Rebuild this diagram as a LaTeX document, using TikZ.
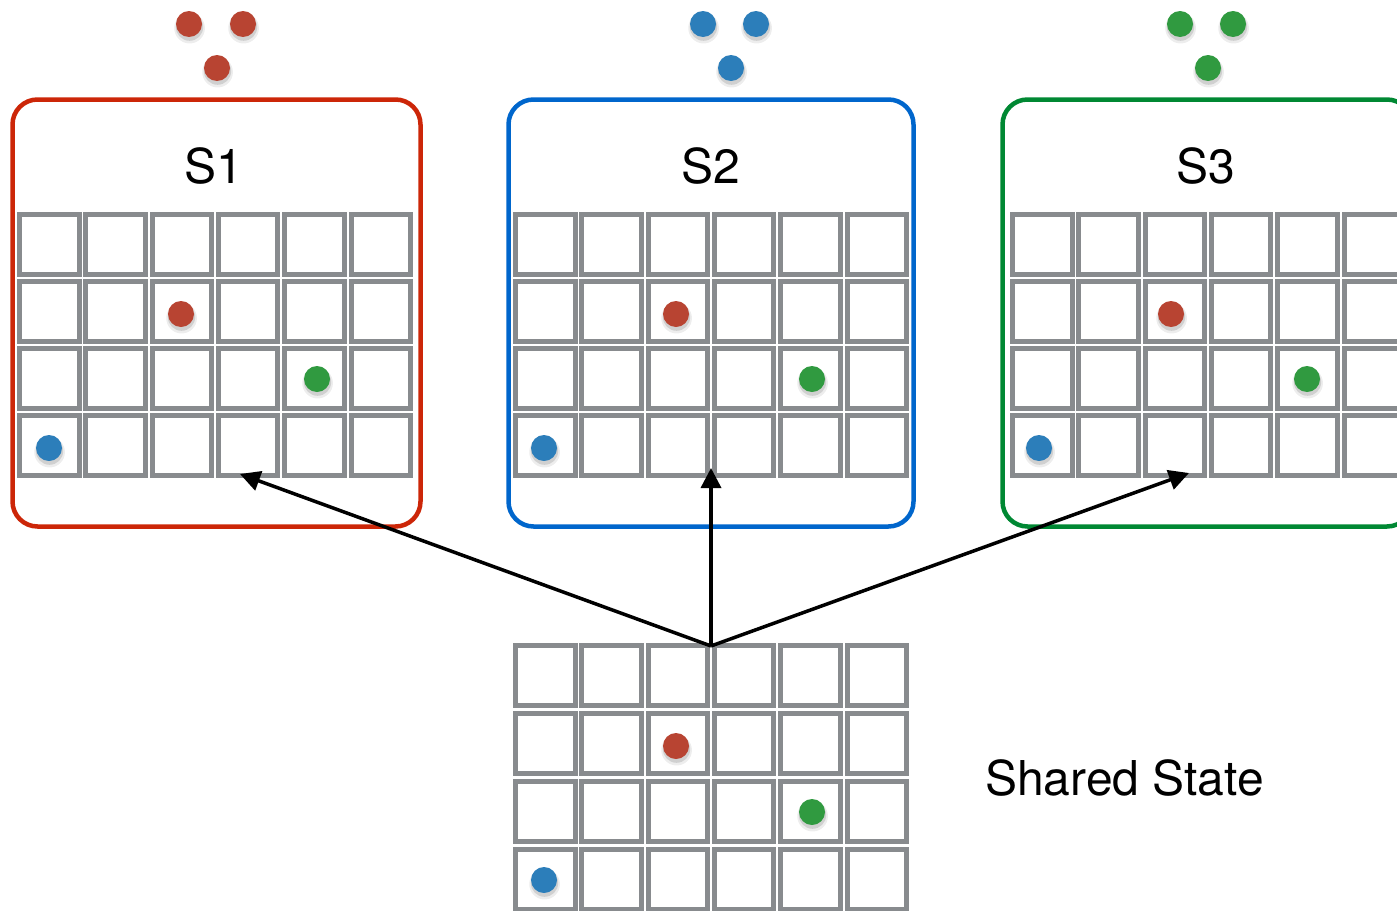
\documentclass[tikz,border=0pt]{standalone}
\usepackage{fontspec}
\setmainfont{TeX Gyre Heros}
\usetikzlibrary{arrows.meta,shadows}
\definecolor{boxred}{RGB}{204,38,8}
\definecolor{boxblue}{RGB}{0,102,204}
\definecolor{boxgreen}{RGB}{0,136,51}
\definecolor{dotred}{RGB}{184,68,50}
\definecolor{dotblue}{RGB}{44,126,186}
\definecolor{dotgreen}{RGB}{48,154,64}
\definecolor{gridgray}{RGB}{136,139,142}
\tikzset{
  cellline/.style={draw=gridgray, line width=5pt},
  framebox/.style={line width=4.5pt, rounded corners=25pt},
  dot/.style={circle, inner sep=0pt, minimum size=26pt, fill=#1,
    general shadow={shadow xshift=0.5pt, shadow yshift=-3.5pt, shadow scale=1.18, opacity=0.07, fill=black},
    general shadow={shadow xshift=0.5pt, shadow yshift=-3pt, shadow scale=1.05, opacity=0.12, fill=black}},
  lbl/.style={font=\fontsize{48}{58}\selectfont, inner sep=0pt, anchor=base},
  conn/.style={line width=3.5pt, -{Triangle[length=20pt,width=20pt]}},
  pics/cellgrid/.style={code={
    \foreach \r in {0,...,3} {
      \foreach \c in {0,...,5} {
        \draw[cellline] ({\c*66.3+2.5},{\r*#1+2.5}) rectangle ++(59.5,60);
      }
    }
  }}
}
\begin{document}
\begin{tikzpicture}[x=1pt,y=-1pt]
\useasboundingbox (0,0) rectangle (1397,910);
\clip (0,0) rectangle (1397,910);

% frames
\draw[framebox, draw=boxred] (12.5,99.5) rectangle (420.5,526.5);
\draw[framebox, draw=boxblue] (508.5,99.5) rectangle (913.5,526.5);
\draw[framebox, draw=boxgreen] (1002.5,99.5) rectangle (1412,526.5);

% labels
\node[lbl] (lS1) at (214,183) {S1};
\node[lbl] (lS2) at (711,183) {S2};
\node[lbl] (lS3) at (1206,183) {S3};
\node[lbl, anchor=base west] (lshared) at (985,795) {Shared State};

% grids
\pic at (17,212) {cellgrid=67};
\pic at (513,212) {cellgrid=67};
\pic at (1010,212) {cellgrid=67};
\pic at (513,643) {cellgrid=68};

% top dots
\node[dot=dotred] (r1) at (189,24) {};
\node[dot=dotred] (r2) at (243,24) {};
\node[dot=dotred] (r3) at (217,68) {};
\node[dot=dotblue] (b1) at (703,24) {};
\node[dot=dotblue] (b2) at (756,24) {};
\node[dot=dotblue] (b3) at (731,68) {};
\node[dot=dotgreen] (g1) at (1180,24) {};
\node[dot=dotgreen] (g2) at (1233,24) {};
\node[dot=dotgreen] (g3) at (1208,68) {};

% dots in grids
\node[dot=dotred] (s1r) at (181,314) {};
\node[dot=dotgreen] (s1g) at (317,379) {};
\node[dot=dotblue] (s1b) at (49,448) {};
\node[dot=dotred] (s2r) at (676,314) {};
\node[dot=dotgreen] (s2g) at (812,379) {};
\node[dot=dotblue] (s2b) at (544,448) {};
\node[dot=dotred] (s3r) at (1171,314) {};
\node[dot=dotgreen] (s3g) at (1307,379) {};
\node[dot=dotblue] (s3b) at (1039,448) {};
\node[dot=dotred] (shr) at (676,746) {};
\node[dot=dotgreen] (shg) at (812,812) {};
\node[dot=dotblue] (shb) at (544,880) {};

% connectors
\coordinate (src) at (711,646);
\coordinate (t1) at (240,474);
\coordinate (t2) at (711,468);
\coordinate (t3) at (1189,473);
\draw[conn] (src) -- (t1);
\draw[conn] (src) -- (t2);
\draw[conn] (src) -- (t3);
\end{tikzpicture}
\end{document}
